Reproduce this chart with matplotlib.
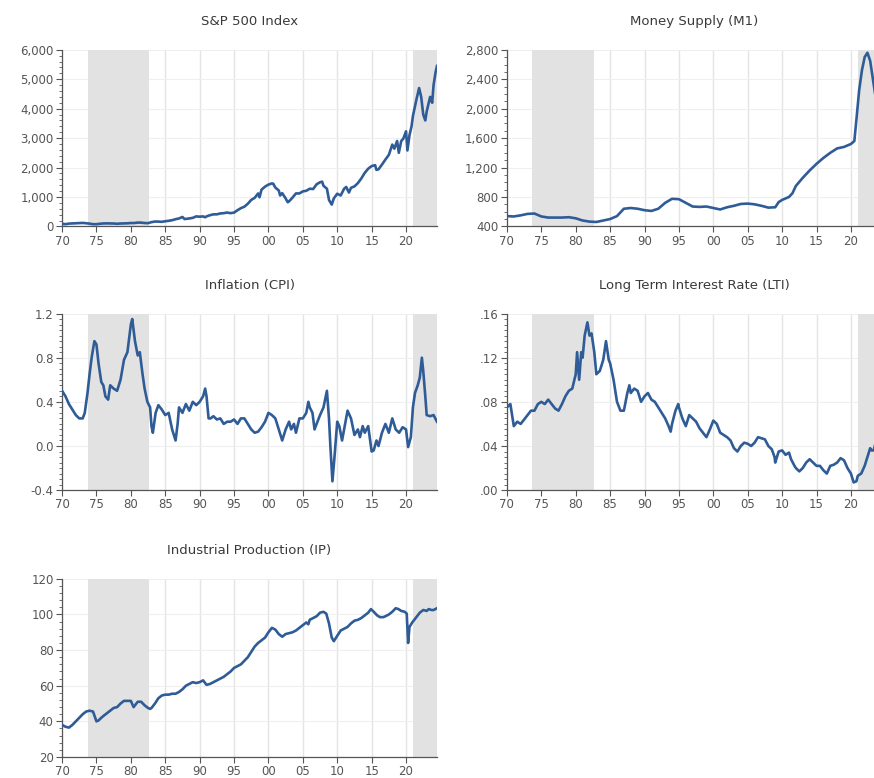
# Five macro series, 1970 to mid-2024, with shaded periods of high inflation
import numpy as np
import matplotlib.pyplot as plt
from matplotlib.ticker import MultipleLocator, AutoMinorLocator, FuncFormatter

plt.rcParams['font.family'] = ['DejaVu Sans']

# Shaded periods (years)
shade_periods = [(1973.7, 1982.7), (2021.0, 2024.5)]

# S&P 500 index
sp_years = [1970, 1970.5, 1971, 1971.5, 1972, 1972.5, 1973, 1973.5, 1974, 1974.5,
            1975, 1975.5, 1976, 1976.5, 1977, 1977.5, 1978, 1978.5, 1979, 1979.5,
            1980, 1980.5, 1981, 1981.5, 1982, 1982.5, 1983, 1983.5, 1984, 1984.5,
            1985, 1985.5, 1986, 1986.5, 1987, 1987.5, 1987.8, 1988, 1988.5, 1989,
            1989.5, 1990, 1990.5, 1990.8, 1991, 1991.5, 1992, 1992.5, 1993, 1993.5,
            1994, 1994.5, 1995, 1995.5, 1996, 1996.5, 1997, 1997.5, 1998, 1998.5,
            1998.7, 1999, 1999.5, 2000, 2000.5, 2000.7, 2001, 2001.5, 2001.7, 2002,
            2002.5, 2002.8, 2003, 2003.5, 2004, 2004.5, 2005, 2005.5, 2006, 2006.5,
            2007, 2007.5, 2007.8, 2008, 2008.5, 2008.8, 2009.2, 2009.5, 2010, 2010.5,
            2011, 2011.3, 2011.7, 2012, 2012.5, 2013, 2013.5, 2014, 2014.5, 2015,
            2015.5, 2015.7, 2016, 2016.5, 2017, 2017.5, 2018, 2018.3, 2018.7, 2018.95,
            2019.3, 2019.6, 2020, 2020.2, 2020.5, 2020.8, 2021, 2021.5, 2021.9, 2022.2,
            2022.5, 2022.8, 2023, 2023.5, 2023.8, 2024, 2024.3, 2024.5]
sp_values = [90, 75, 95, 100, 105, 110, 118, 105, 95, 75,
             75, 90, 100, 103, 100, 98, 90, 98, 100, 105,
             115, 115, 130, 128, 115, 110, 145, 165, 163, 155,
             175, 190, 210, 245, 270, 320, 250, 255, 270, 290,
             340, 330, 340, 310, 340, 380, 410, 410, 440, 450,
             470, 450, 470, 550, 620, 670, 770, 900, 970, 1120,
             990, 1250, 1350, 1420, 1460, 1450, 1320, 1220, 1050, 1130,
             950, 820, 850, 980, 1120, 1120, 1190, 1210, 1280, 1270,
             1430, 1500, 1520, 1380, 1280, 900, 740, 950, 1110, 1050,
             1280, 1340, 1150, 1310, 1360, 1470, 1630, 1820, 1960, 2050,
             2080, 1920, 1940, 2100, 2270, 2430, 2780, 2640, 2900, 2500,
             2900, 2980, 3230, 2580, 3100, 3400, 3750, 4300, 4700, 4400,
             3800, 3600, 3900, 4400, 4200, 4800, 5250, 5450]

# Money supply (M1)
m1_years = [1970, 1971, 1972, 1973, 1974, 1975, 1976, 1977, 1978, 1979,
            1980, 1981, 1982, 1983, 1984, 1985, 1986, 1987, 1988, 1989,
            1990, 1991, 1992, 1993, 1994, 1995, 1996, 1997, 1998, 1999,
            2000, 2001, 2002, 2003, 2004, 2005, 2006, 2007, 2008, 2009,
            2009.5, 2010, 2011, 2011.5, 2012, 2013, 2014, 2015, 2016, 2017,
            2018, 2019, 2019.5, 2020, 2020.5, 2020.8, 2021.2, 2021.6, 2022.0, 2022.4,
            2022.8, 2023.2, 2023.6, 2024, 2024.5]
m1_values = [540, 535, 550, 570, 575, 535, 520, 520, 520, 525,
             510, 480, 465, 460, 480, 500, 540, 640, 650, 640,
             620, 610, 640, 720, 775, 770, 720, 670, 665, 670,
             650, 630, 660, 680, 705, 710, 700, 680, 655, 660,
             730, 760, 800, 850, 950, 1060, 1160, 1250, 1330, 1400,
             1460, 1480, 1500, 1520, 1560, 1850, 2250, 2520, 2700, 2760,
             2650, 2400, 2150, 2000, 1950]

# Inflation (CPI)
cpi_years = [1970, 1970.5, 1971, 1971.5, 1972, 1972.5, 1973, 1973.3, 1973.7, 1974,
             1974.3, 1974.7, 1975, 1975.3, 1975.7, 1976, 1976.3, 1976.7, 1977, 1977.5,
             1978, 1978.5, 1979, 1979.5, 1980, 1980.2, 1980.6, 1981, 1981.3, 1981.7,
             1982, 1982.4, 1982.8, 1983, 1983.2, 1983.6, 1984, 1984.5, 1985, 1985.5,
             1986, 1986.5, 1986.8, 1987, 1987.5, 1988, 1988.5, 1989, 1989.5, 1990,
             1990.5, 1990.8, 1991, 1991.3, 1991.6, 1992, 1992.5, 1993, 1993.5, 1994,
             1994.5, 1995, 1995.5, 1996, 1996.5, 1997, 1997.5, 1998, 1998.5, 1999,
             1999.5, 2000, 2000.5, 2001, 2001.5, 2002, 2002.5, 2003, 2003.3, 2003.7,
             2004, 2004.5, 2005, 2005.5, 2005.8, 2006, 2006.4, 2006.7, 2007, 2007.5,
             2008, 2008.5, 2008.8, 2009, 2009.3, 2009.6, 2010, 2010.3, 2010.7, 2011,
             2011.5, 2012, 2012.5, 2013, 2013.3, 2013.7, 2014, 2014.5, 2015, 2015.3,
             2015.7, 2016, 2016.5, 2017, 2017.5, 2018, 2018.5, 2019, 2019.5, 2020,
             2020.3, 2020.7, 2021, 2021.3, 2021.7, 2022, 2022.3, 2022.5, 2022.8, 2023,
             2023.5, 2024, 2024.5]
cpi_values = [0.50, 0.45, 0.38, 0.33, 0.28, 0.25, 0.25, 0.30, 0.48, 0.65,
              0.80, 0.95, 0.92, 0.75, 0.58, 0.55, 0.45, 0.42, 0.55, 0.52,
              0.50, 0.60, 0.78, 0.85, 1.10, 1.15, 0.95, 0.82, 0.85, 0.65,
              0.52, 0.40, 0.35, 0.18, 0.12, 0.30, 0.37, 0.33, 0.28, 0.30,
              0.15, 0.05, 0.20, 0.35, 0.30, 0.38, 0.32, 0.40, 0.37, 0.40,
              0.45, 0.52, 0.45, 0.25, 0.25, 0.27, 0.24, 0.25, 0.20, 0.22,
              0.22, 0.24, 0.20, 0.25, 0.25, 0.20, 0.15, 0.12, 0.13, 0.17,
              0.22, 0.30, 0.28, 0.25, 0.15, 0.05, 0.15, 0.22, 0.15, 0.20,
              0.12, 0.25, 0.25, 0.30, 0.40, 0.35, 0.30, 0.15, 0.20, 0.28,
              0.35, 0.50, 0.25, 0.00, -0.32, -0.10, 0.22, 0.18, 0.05, 0.15,
              0.32, 0.25, 0.10, 0.15, 0.08, 0.18, 0.12, 0.18, -0.05, -0.04,
              0.05, 0.00, 0.12, 0.20, 0.12, 0.25, 0.15, 0.12, 0.17, 0.15,
              -0.01, 0.08, 0.35, 0.48, 0.55, 0.62, 0.80, 0.68, 0.45, 0.28,
              0.27, 0.28, 0.22]

# Long term interest rate (LTI)
lti_years = [1970, 1970.5, 1971, 1971.5, 1972, 1972.5, 1973, 1973.5, 1974, 1974.5,
             1975, 1975.5, 1976, 1976.5, 1977, 1977.5, 1978, 1978.5, 1979, 1979.5,
             1980, 1980.2, 1980.5, 1980.8, 1981, 1981.3, 1981.7, 1982, 1982.3, 1982.7,
             1983, 1983.5, 1984, 1984.4, 1984.8, 1985, 1985.5, 1986, 1986.5, 1987,
             1987.5, 1987.8, 1988, 1988.5, 1989, 1989.5, 1990, 1990.5, 1991, 1991.5,
             1992, 1992.5, 1993, 1993.5, 1993.8, 1994, 1994.5, 1994.9, 1995, 1995.5,
             1996, 1996.5, 1997, 1997.5, 1998, 1998.5, 1999, 1999.5, 2000, 2000.5,
             2001, 2001.5, 2002, 2002.5, 2003, 2003.5, 2004, 2004.5, 2005, 2005.5,
             2006, 2006.5, 2007, 2007.5, 2008, 2008.5, 2008.9, 2009, 2009.5, 2010,
             2010.5, 2011, 2011.3, 2011.8, 2012, 2012.5, 2013, 2013.5, 2014, 2014.5,
             2015, 2015.5, 2016, 2016.5, 2017, 2017.5, 2018, 2018.5, 2019, 2019.5,
             2020, 2020.4, 2020.8, 2021, 2021.5, 2022, 2022.5, 2022.8, 2023, 2023.3,
             2023.7, 2024, 2024.5]
lti_values = [0.075, 0.078, 0.058, 0.062, 0.060, 0.064, 0.068, 0.072, 0.072, 0.078,
              0.080, 0.078, 0.082, 0.078, 0.074, 0.072, 0.078, 0.085, 0.090, 0.092,
              0.105, 0.125, 0.100, 0.125, 0.120, 0.140, 0.152, 0.140, 0.142, 0.125,
              0.105, 0.108, 0.118, 0.135, 0.118, 0.115, 0.100, 0.080, 0.072, 0.072,
              0.088, 0.095, 0.088, 0.092, 0.090, 0.080, 0.085, 0.088, 0.082, 0.080,
              0.075, 0.070, 0.065, 0.058, 0.053, 0.060, 0.072, 0.078, 0.075, 0.065,
              0.058, 0.068, 0.065, 0.062, 0.056, 0.052, 0.048, 0.055, 0.063, 0.060,
              0.052, 0.050, 0.048, 0.045, 0.038, 0.035, 0.040, 0.043, 0.042, 0.040,
              0.043, 0.048, 0.047, 0.046, 0.040, 0.037, 0.030, 0.025, 0.035, 0.036,
              0.032, 0.034, 0.028, 0.022, 0.020, 0.017, 0.020, 0.025, 0.028, 0.025,
              0.022, 0.022, 0.018, 0.015, 0.022, 0.023, 0.025, 0.029, 0.027, 0.020,
              0.015, 0.007, 0.008, 0.013, 0.015, 0.022, 0.032, 0.038, 0.036, 0.036,
              0.045, 0.042, 0.043]

# Industrial production (IP)
ip_years = [1970, 1970.5, 1971, 1971.5, 1972, 1972.5, 1973, 1973.5, 1974, 1974.5,
            1975, 1975.3, 1975.7, 1976, 1976.5, 1977, 1977.5, 1978, 1978.5, 1979,
            1979.5, 1980, 1980.4, 1980.8, 1981, 1981.5, 1982, 1982.5, 1982.8, 1983,
            1983.5, 1984, 1984.5, 1985, 1985.5, 1986, 1986.5, 1987, 1987.5, 1988,
            1988.5, 1989, 1989.5, 1990, 1990.5, 1991, 1991.5, 1992, 1992.5, 1993,
            1993.5, 1994, 1994.5, 1995, 1995.5, 1996, 1996.5, 1997, 1997.5, 1998,
            1998.5, 1999, 1999.5, 2000, 2000.5, 2001, 2001.5, 2002, 2002.5, 2003,
            2003.5, 2004, 2004.5, 2005, 2005.5, 2005.8, 2006, 2006.5, 2007, 2007.5,
            2008, 2008.4, 2008.8, 2009.2, 2009.5, 2010, 2010.5, 2011, 2011.5, 2012,
            2012.5, 2013, 2013.5, 2014, 2014.5, 2014.9, 2015.3, 2015.8, 2016.2, 2016.7,
            2017, 2017.5, 2018, 2018.5, 2018.9, 2019.3, 2019.8, 2020.1, 2020.3, 2020.5,
            2020.9, 2021.3, 2021.7, 2022, 2022.5, 2023, 2023.3, 2023.7, 2024, 2024.5]
ip_values = [38, 37, 36.5, 38, 40, 42, 44, 45.5, 46, 45.5,
             40, 40.5, 42, 43, 44.5, 46, 47.5, 48, 50, 51.5,
             51.5, 51.5, 48, 50, 51, 51, 49, 47.5, 47, 47.5,
             50, 53, 54.5, 55, 55, 55.5, 55.5, 56.5, 58, 60,
             61, 62, 61.5, 62, 63, 60.5, 61, 62, 63, 64,
             65, 66.5, 68, 70, 71, 72, 74, 76, 79, 82,
             84, 85.5, 87, 90, 92.5, 91.5, 89, 87.5, 89, 89.5,
             90, 91, 92.5, 94, 95.5, 94.5, 97, 98, 99, 101,
             101.5, 100.5, 95, 87, 85, 88, 91, 92, 93, 95,
             96.5, 97, 98, 99.5, 101, 103, 101.5, 99.5, 98.5, 98.5,
             99, 100, 101.5, 103.5, 103, 102, 101.5, 100.5, 84, 93,
             95.5, 97.5, 99.5, 101, 102.5, 102, 103, 102.5, 102.5, 103.5]

line_color = '#2f5c97'
shade_color = '#e2e2e2'
axis_color = '#555555'


def draw_panel(ax, years, values, title, ylim, ystep, nminor, fmt):
    for start, end in shade_periods:
        ax.axvspan(start, end, color=shade_color, lw=0, zorder=1)
    ax.plot(years, values, color=line_color, lw=1.9, zorder=3)
    ax.set_xlim(1970, 2024.5)
    ax.set_ylim(*ylim)
    ax.set_title(title, fontsize=9.5, color='#3a3a3a', pad=18)
    ax.xaxis.set_major_locator(MultipleLocator(5))
    ax.xaxis.set_major_formatter(FuncFormatter(lambda x, p: "%02d" % (int(round(x)) % 100)))
    ax.yaxis.set_major_locator(MultipleLocator(ystep))
    ax.yaxis.set_minor_locator(AutoMinorLocator(nminor))
    ax.yaxis.set_major_formatter(FuncFormatter(fmt))
    ax.set_axisbelow(True)
    ax.grid(axis='x', color='#e4e4e4', lw=1.0)
    ax.grid(axis='y', color='#efefef', lw=0.8)
    for side in ('top', 'right'):
        ax.spines[side].set_visible(False)
    for side in ('left', 'bottom'):
        ax.spines[side].set_color(axis_color)
        ax.spines[side].set_linewidth(0.9)
    ax.tick_params(which='major', length=4, width=0.8, color=axis_color,
                   labelsize=8.5, labelcolor=axis_color, pad=2)
    ax.tick_params(which='minor', length=2, width=0.6, color=axis_color)
    ax.tick_params(axis='x', which='minor', bottom=False)


fig = plt.figure(figsize=(8.74, 7.78), dpi=100)

# Axes boxes in figure fractions; the right column runs past the edge
w = 0.429
h = 0.227
ax1 = fig.add_axes([0.071, 0.709, w, h])
ax2 = fig.add_axes([0.580, 0.709, w, h])
ax3 = fig.add_axes([0.071, 0.370, w, h])
ax4 = fig.add_axes([0.580, 0.370, w, h])
ax5 = fig.add_axes([0.071, 0.027, w, 0.229])

draw_panel(ax1, sp_years, sp_values, "S&P 500 Index", (0, 6000), 1000, 5,
           lambda v, p: "{:,.0f}".format(v))
draw_panel(ax2, m1_years, m1_values, "Money Supply (M1)", (400, 2800), 400, 4,
           lambda v, p: "{:,.0f}".format(v))
draw_panel(ax3, cpi_years, cpi_values, "Inflation (CPI)", (-0.4, 1.2), 0.4, 8,
           lambda v, p: "%.1f" % v)
draw_panel(ax4, lti_years, lti_values, "Long Term Interest Rate (LTI)", (0, 0.16), 0.04, 8,
           lambda v, p: ("%.2f" % v).replace("0.", ".", 1))
draw_panel(ax5, ip_years, ip_values, "Industrial Production (IP)", (20, 120), 20, 5,
           lambda v, p: "%d" % v)

fig.savefig("out.png", dpi=100)
